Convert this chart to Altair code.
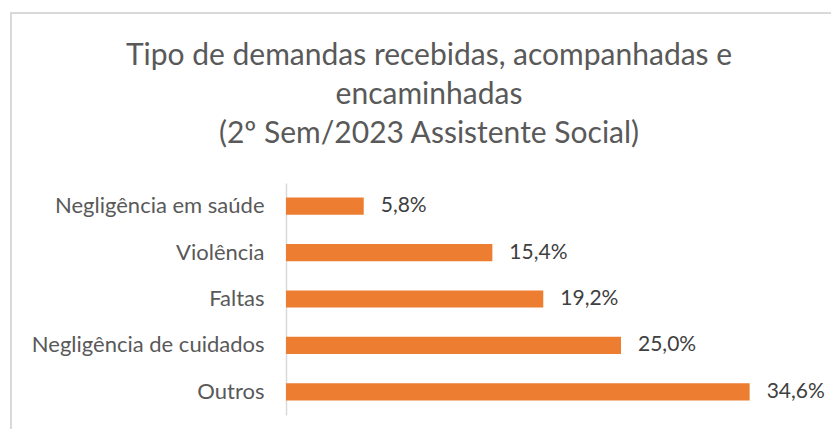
import altair as alt
import pandas as pd

categories = ["Negligência em saúde", "Violência", "Faltas", "Negligência de cuidados", "Outros"]
values = [5.8, 15.4, 19.2, 25.0, 34.6]
labels = ["5,8%", "15,4%", "19,2%", "25,0%", "34,6%"]

df = pd.DataFrame({"cat": categories, "val": values, "lab": labels})

FONT = "Lato"

base = alt.Chart(df).encode(
    y=alt.Y("cat:N", sort=categories, title=None,
            scale=alt.Scale(paddingInner=0.63, paddingOuter=0.315),
            axis=alt.Axis(labelFont=FONT, labelFontSize=22, labelColor="#595959",
                          labelPadding=22, ticks=False, domainColor="#d9d9d9",
                          domainWidth=1.5, labelLimit=400)),
)

bars = base.mark_bar(color="#ED7D31").encode(
    x=alt.X("val:Q", scale=alt.Scale(domain=[0, 40]), axis=None, title=None),
)

text = base.mark_text(align="left", baseline="middle", dx=17, font=FONT,
                      fontSize=21, color="#404040").encode(
    x=alt.X("val:Q"),
    text="lab:N",
)

frame = alt.Chart(df).mark_rect(fill=None, stroke="#d9d9d9", strokeWidth=2).encode(
    x=alt.value(-275), x2=alt.value(600), y=alt.value(-170), y2=alt.value(300)
)

chart = alt.layer(frame, bars, text).properties(
    width=536,
    height=232,
    padding={"left": 278, "top": 175, "right": 9, "bottom": 14},
    autosize=alt.AutoSizeParams(type="none"),
    title=alt.TitleParams(
        text=["Tipo de demandas recebidas, acompanhadas e", "encaminhadas",
              "(2º Sem/2023 Assistente Social)"],
        font=FONT, fontSize=30, fontWeight="normal", color="#595959",
        anchor="middle", dx=-125, lineHeight=39, offset=-137,
    ),
).configure_view(stroke=None)

chart.save("out.html", embed_options={"renderer": "svg", "actions": False})
